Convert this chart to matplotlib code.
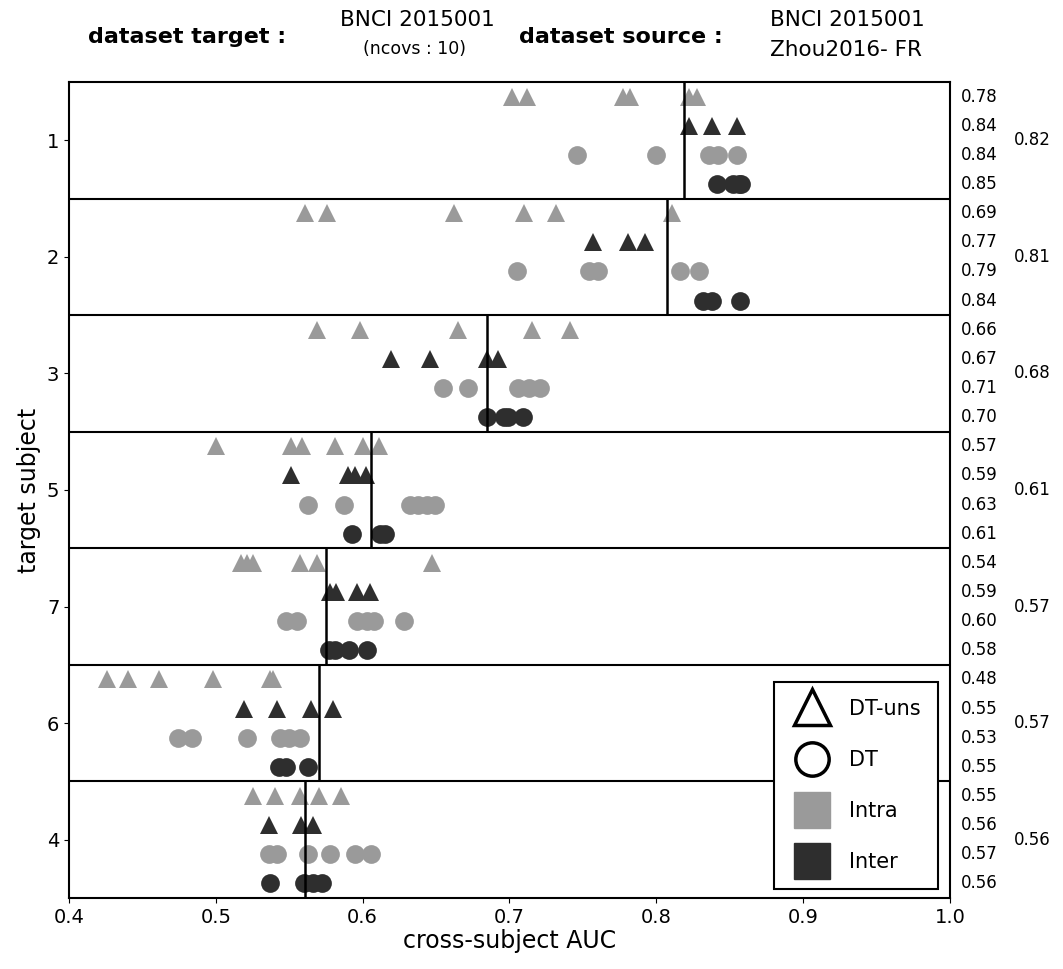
import matplotlib
matplotlib.use("Agg")
import matplotlib.pyplot as plt
from matplotlib.lines import Line2D

# ---- data -----------------------------------------------------------------
subjects = ["1", "2", "3", "5", "7", "6", "4"]

intra_uns = [
    [0.702, 0.712, 0.777, 0.782, 0.822, 0.828],
    [0.561, 0.576, 0.662, 0.710, 0.732, 0.811],
    [0.569, 0.598, 0.665, 0.715, 0.741],
    [0.500, 0.551, 0.559, 0.581, 0.600, 0.611],
    [0.517, 0.521, 0.525, 0.557, 0.569, 0.647],
    [0.426, 0.440, 0.461, 0.498, 0.537, 0.539],
    [0.525, 0.540, 0.557, 0.570, 0.585],
]
inter_uns = [
    [0.822, 0.838, 0.855],
    [0.757, 0.781, 0.792],
    [0.619, 0.646, 0.685, 0.692],
    [0.551, 0.590, 0.595, 0.602],
    [0.578, 0.582, 0.596, 0.605],
    [0.519, 0.542, 0.565, 0.580],
    [0.536, 0.558, 0.566],
]
intra_dt = [
    [0.746, 0.800, 0.836, 0.842, 0.855],
    [0.705, 0.754, 0.760, 0.816, 0.829],
    [0.655, 0.672, 0.706, 0.713, 0.721],
    [0.563, 0.587, 0.632, 0.638, 0.644, 0.649],
    [0.548, 0.555, 0.596, 0.603, 0.608, 0.628],
    [0.474, 0.484, 0.521, 0.544, 0.550, 0.557],
    [0.536, 0.542, 0.563, 0.578, 0.595, 0.606],
]
inter_dt = [
    [0.841, 0.852, 0.856, 0.858],
    [0.832, 0.838, 0.857],
    [0.685, 0.696, 0.699, 0.709],
    [0.593, 0.612, 0.615],
    [0.577, 0.581, 0.591, 0.603],
    [0.543, 0.548, 0.563],
    [0.537, 0.560, 0.566, 0.572],
]
row_mean = [0.819, 0.807, 0.685, 0.606, 0.575, 0.570, 0.561]
row_mean_lbl = ["0.82", "0.81", "0.68", "0.61", "0.57", "0.57", "0.56"]
sub_lbl = [
    ["0.78", "0.84", "0.84", "0.85"],
    ["0.69", "0.77", "0.79", "0.84"],
    ["0.66", "0.67", "0.71", "0.70"],
    ["0.57", "0.59", "0.63", "0.61"],
    ["0.54", "0.59", "0.60", "0.58"],
    ["0.48", "0.55", "0.53", "0.55"],
    ["0.55", "0.56", "0.57", "0.56"],
]

C_INTRA = "#9a9a9a"
C_INTER = "#2e2e2e"

fig = plt.figure(figsize=(10.63, 9.69), dpi=100)
ax = fig.add_axes([0.0649, 0.0733, 0.8288, 0.8421])

series = [(intra_uns, "^", C_INTRA), (inter_uns, "^", C_INTER),
          (intra_dt, "o", C_INTRA), (inter_dt, "o", C_INTER)]

n = len(subjects)
for k in range(n):
    for j, (data, mk, col) in enumerate(series):
        y = k + (j + 0.5) / 4
        ax.plot(data[k], [y] * len(data[k]), ls="none", marker=mk, ms=13.5,
                color=col, mew=0)
        ax.text(1.0125, y, sub_lbl[k][j], transform=ax.get_yaxis_transform(),
                va="center", ha="left", fontsize=12)
    ax.vlines(row_mean[k], k, k + 1, color="black", lw=1.8)
    ax.text(1.072, k + 0.5, row_mean_lbl[k], transform=ax.get_yaxis_transform(),
            va="center", ha="left", fontsize=12)
    if k > 0:
        ax.axhline(k, color="black", lw=1.5)

ax.set_xlim(0.4, 1.0)
ax.set_ylim(n, 0)
ax.set_yticks([k + 0.5 for k in range(n)])
ax.set_yticklabels(subjects)
ax.set_xticks([0.4, 0.5, 0.6, 0.7, 0.8, 0.9, 1.0])
ax.tick_params(labelsize=14)
for s in ax.spines.values():
    s.set_linewidth(1.5)
ax.set_xlabel("cross-subject AUC", fontsize=17, labelpad=2)
ax.set_ylabel("target subject", fontsize=17)

handles = [
    Line2D([], [], ls="none", marker="^", ms=26, mfc="white", mec="black", mew=2.5, label="DT-uns"),
    Line2D([], [], ls="none", marker="o", ms=24, mfc="white", mec="black", mew=2.5, label="DT"),
    Line2D([], [], ls="none", marker="s", ms=26, color=C_INTRA, label="Intra"),
    Line2D([], [], ls="none", marker="s", ms=26, color=C_INTER, label="Inter"),
]
leg = ax.legend(handles=handles, loc="lower right", fontsize=15, fancybox=False,
                framealpha=1, edgecolor="black", labelspacing=1.5,
                borderpad=0.8, handletextpad=0.8, borderaxespad=0,
                bbox_to_anchor=(0.986, 0.011))
leg.get_frame().set_linewidth(1.5)

# header
fig.text(0.083, 0.962, "dataset target :", fontsize=16, fontweight="bold", va="center")
fig.text(0.393, 0.979, "BNCI 2015001", fontsize=15.5, ha="center", va="center")
fig.text(0.39, 0.949, "(ncovs : 10)", fontsize=12.5, ha="center", va="center")
fig.text(0.488, 0.962, "dataset source :", fontsize=16, fontweight="bold", va="center")
fig.text(0.724, 0.979, "BNCI 2015001", fontsize=15.5, ha="left", va="center")
fig.text(0.724, 0.948, "Zhou2016- FR", fontsize=15.5, ha="left", va="center")

fig.savefig("out.png", dpi=100)
